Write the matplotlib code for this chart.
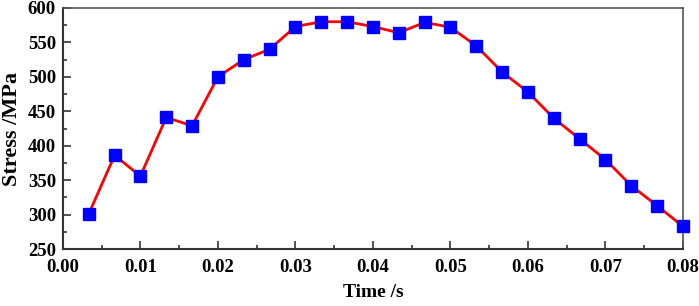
import numpy as np
import matplotlib
matplotlib.use('Agg')
from matplotlib import pyplot as plt
from matplotlib.ticker import MultipleLocator

time_s = [0.00333, 0.00667, 0.01, 0.01333, 0.01667, 0.02, 0.02333, 0.02667,
          0.03, 0.03333, 0.03667, 0.04, 0.04333, 0.04667, 0.05, 0.05333,
          0.05667, 0.06, 0.06333, 0.06667, 0.07, 0.07333, 0.07667, 0.08]
stress_mpa = [301, 386, 356, 441, 429, 500, 525, 540,
              573, 580, 580, 573, 564, 579, 572, 545,
              507, 478, 440, 410, 380, 342, 313, 283]

plt.rcParams['font.family'] = ['Liberation Serif', 'DejaVu Serif']
plt.rcParams['font.weight'] = 'bold'

fig = plt.figure(figsize=(6.99, 3.06), dpi=100)
ax = fig.add_axes([0.090, 0.186, 0.887, 0.788])

ax.plot(time_s, stress_mpa, color='#ff0000', lw=2, marker='s', ms=8,
        mfc='#0000ff', mec='#0000ff', clip_on=False, zorder=3)

ax.set_xlim(0, 0.08)
ax.set_ylim(250, 600)
ax.xaxis.set_major_locator(MultipleLocator(0.01))
ax.xaxis.set_minor_locator(MultipleLocator(0.005))
ax.yaxis.set_major_locator(MultipleLocator(50))
ax.yaxis.set_minor_locator(MultipleLocator(25))
ax.xaxis.set_major_formatter(plt.FuncFormatter(lambda v, p: '%.2f' % v))

ax.tick_params(which='both', direction='in', top=False, right=False,
               labelsize=13.5, width=1.2, colors='#333333', labelcolor='black')
ax.tick_params(which='major', length=6)
ax.tick_params(which='minor', length=3)
ax.tick_params(axis='x', which='major', pad=7)
ax.tick_params(axis='y', which='major', pad=5)
for side in ['left', 'bottom']:
    ax.spines[side].set_linewidth(1.5)
    ax.spines[side].set_color('#333333')
for side in ['top', 'right']:
    ax.spines[side].set_linewidth(1.2)
    ax.spines[side].set_color('#555555')

ax.set_xlabel('Time /s', fontsize=14, fontweight='bold', labelpad=6)
ax.set_ylabel('Stress /MPa', fontsize=16, fontweight='bold', labelpad=4)

fig.savefig('out.png', dpi=100)
